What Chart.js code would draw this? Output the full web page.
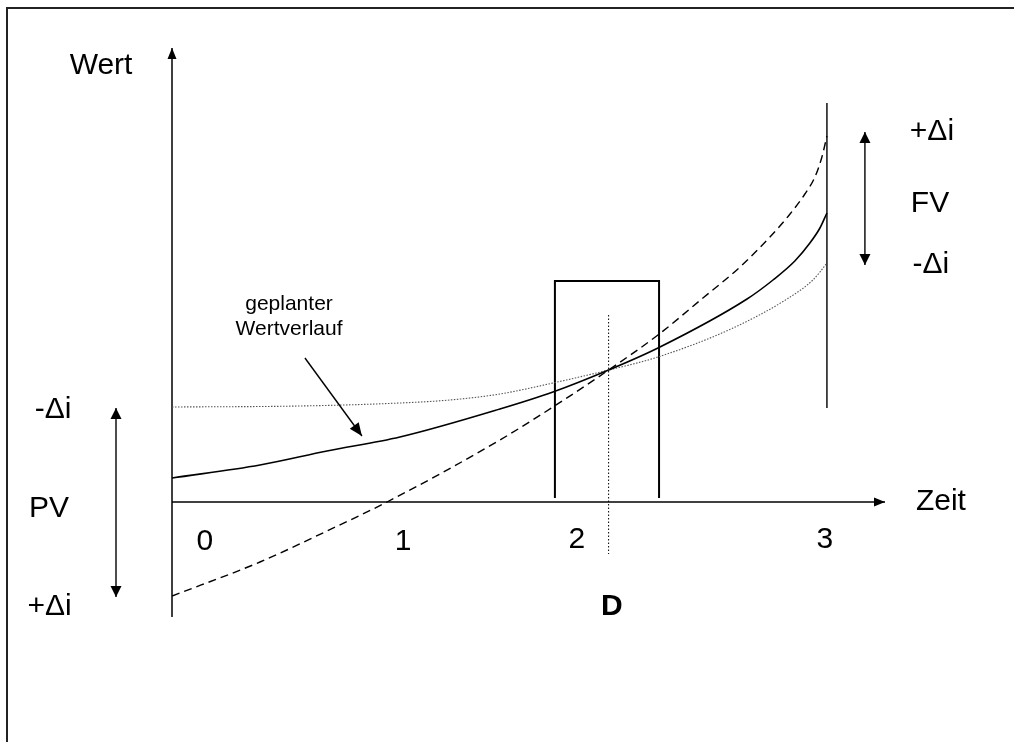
<!DOCTYPE html>
<html>
<head>
<meta charset="utf-8">
<script src="https://cdn.jsdelivr.net/npm/chart.js@4.4.1/dist/chart.umd.min.js"></script>
<style>
  body { margin: 0; background: #fff; }
  canvas { display: block; }
</style>
</head>
<body>
<canvas id="chart" width="1014" height="742"></canvas>
<script>
// Zeit (0..3) and Wert (arbitrary units)
const plannedX = [0, 0.403, 0.710, 1.044, 1.502, 1.745, 2.0, 2.226, 2.634, 2.753, 2.853, 2.922, 2.968, 3.0];
const plannedY = [0.24, 0.37, 0.51, 0.65, 0.93, 1.10, 1.32, 1.54, 2.03, 2.22, 2.41, 2.59, 2.74, 2.89];

const plusX = [0, 0.403, 0.710, 0.985, 1.502, 1.745, 2.0, 2.226, 2.432, 2.602, 2.739, 2.831, 2.899, 2.945, 2.977, 3.0];
const plusY = [-0.94, -0.60, -0.29, 0.0, 0.62, 0.95, 1.32, 1.67, 2.04, 2.35, 2.65, 2.88, 3.08, 3.25, 3.45, 3.66];

const minusX = [0, 0.586, 1.044, 1.273, 1.502, 1.745, 2.0, 2.226, 2.570, 2.817, 2.936, 2.968, 3.0];
const minusY = [0.95, 0.96, 0.99, 1.02, 1.08, 1.19, 1.32, 1.45, 1.74, 2.03, 2.22, 2.30, 2.39];

// duration D, band around it, horizon line at t = 3
const duration = 2.0;
const durationY = [1.87, -0.52];
const bandX = [1.754, 1.754, 2.231, 2.231];
const bandY = [0.04, 2.21, 2.21, 0.04];
const horizon = 3.0;
const horizonY = [3.99, 0.94];

// tick labels on the time axis
const tickLabels = ["0", "1", "2", "3"];
const tickAt = [0.151, 1.058, 1.855, 2.99];

const pts = (xs, ys) => xs.map((x, i) => ({ x: x, y: ys[i] }));

const FONT = '"Liberation Sans", Arial, sans-serif';

function arrowHead(ctx, x1, y1, x2, y2, len, half) {
  const a = Math.atan2(y2 - y1, x2 - x1);
  ctx.beginPath();
  ctx.moveTo(x2, y2);
  ctx.lineTo(x2 - len * Math.cos(a) + half * Math.sin(a), y2 - len * Math.sin(a) - half * Math.cos(a));
  ctx.lineTo(x2 - len * Math.cos(a) - half * Math.sin(a), y2 - len * Math.sin(a) + half * Math.cos(a));
  ctx.closePath();
  ctx.fill();
}

function arrow(ctx, x1, y1, x2, y2, both, len, half) {
  ctx.beginPath();
  ctx.moveTo(x1, y1);
  ctx.lineTo(x2, y2);
  ctx.stroke();
  arrowHead(ctx, x1, y1, x2, y2, len, half);
  if (both) arrowHead(ctx, x2, y2, x1, y1, len, half);
}

const overlay = {
  id: "overlay",
  beforeDatasetsDraw(chart) {
    const ctx = chart.ctx;
    const sx = chart.scales.x, sy = chart.scales.y;
    ctx.save();
    // frame
    ctx.strokeStyle = "#222";
    ctx.lineWidth = 2;
    ctx.strokeRect(7, 8, 1200, 900);
    // axes
    ctx.strokeStyle = "#000";
    ctx.fillStyle = "#000";
    ctx.lineWidth = 1.5;
    arrow(ctx, sx.getPixelForValue(0), sy.bottom, sx.getPixelForValue(0), sy.top, false, 11, 4.5);
    arrow(ctx, sx.getPixelForValue(0), sy.getPixelForValue(0), sx.right, sy.getPixelForValue(0), false, 11, 4.5);
    ctx.restore();
  },
  afterDatasetsDraw(chart) {
    const ctx = chart.ctx;
    const X = v => chart.scales.x.getPixelForValue(v);
    const Y = v => chart.scales.y.getPixelForValue(v);
    ctx.save();
    ctx.strokeStyle = "#000";
    ctx.fillStyle = "#000";
    ctx.lineWidth = 1.4;
    // FV and PV ranges
    arrow(ctx, X(3.174), Y(3.70), X(3.174), Y(2.37), true, 11, 5.5);
    arrow(ctx, X(-0.2565), Y(0.94), X(-0.2565), Y(-0.95), true, 11, 5.5);
    // pointer to the planned curve
    arrow(ctx, X(0.609), Y(1.44), X(0.870), Y(0.66), false, 13, 5.5);

    ctx.textAlign = "center";
    ctx.textBaseline = "alphabetic";
    ctx.font = "30px " + FONT;
    const txt = (s, x, y) => ctx.fillText(s, X(x), Y(y));
    txt("Wert", -0.325, 4.28);
    txt("Zeit", 3.522, -0.08);
    tickLabels.forEach((t, i) => txt(t, tickAt[i], i < 2 ? -0.48 : -0.46));
    txt("+\u0394i", 3.481, 3.62);
    txt("FV", 3.472, 2.90);
    txt("-\u0394i", 3.476, 2.29);
    txt("-\u0394i", -0.545, 0.84);
    txt("PV", -0.563, -0.15);
    txt("+\u0394i", -0.561, -1.13);
    ctx.font = "bold 30px " + FONT;
    txt("D", 2.015, -1.13);
    ctx.font = "21px " + FONT;
    txt("geplanter", 0.536, 1.92);
    txt("Wertverlauf", 0.536, 1.67);
    ctx.restore();
  }
};

new Chart(document.getElementById("chart"), {
  type: "line",
  data: {
    datasets: [
      {
        data: pts(plannedX, plannedY),
        borderColor: "#000",
        borderWidth: 1.6,
        cubicInterpolationMode: "monotone",
      },
      {
        data: pts(plusX, plusY),
        borderColor: "#000",
        borderWidth: 1.4,
        borderDash: [8, 5],
        cubicInterpolationMode: "monotone",
      },
      {
        data: pts(minusX, minusY),
        borderColor: "#555",
        borderWidth: 1.1,
        borderDash: [1.5, 1.5],
        cubicInterpolationMode: "monotone",
      },
      {
        data: pts(bandX, bandY),
        borderColor: "#000",
        borderWidth: 2,
        borderJoinStyle: "miter",
        tension: 0,
      },
      {
        data: pts([duration, duration], durationY),
        borderColor: "#000",
        borderWidth: 1,
        borderDash: [1.5, 2],
        tension: 0,
      },
      {
        data: pts([horizon, horizon], horizonY),
        borderColor: "#000",
        borderWidth: 1.4,
        tension: 0,
      },
    ],
  },
  options: {
    responsive: false,
    animation: false,
    layout: { padding: { left: 172, right: 129, top: 48, bottom: 125 } },
    plugins: { legend: { display: false }, tooltip: { enabled: false } },
    elements: { point: { radius: 0 } },
    scales: {
      x: { type: "linear", display: false, min: 0, max: 3.266 },
      y: { type: "linear", display: false, min: -1.15, max: 4.54 },
    },
  },
  plugins: [overlay],
});
</script>
</body>
</html>
